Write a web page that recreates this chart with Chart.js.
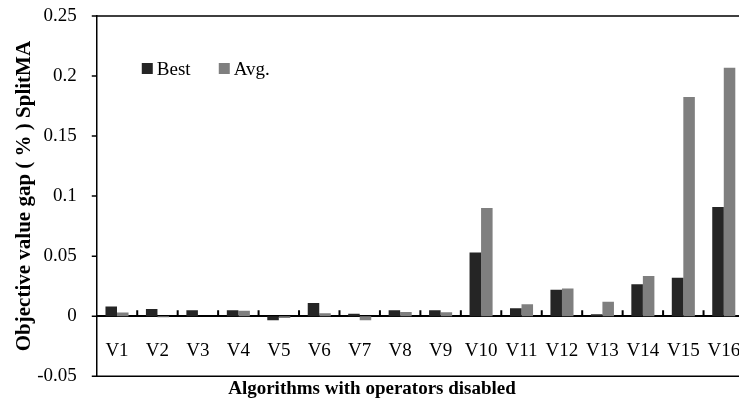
<!DOCTYPE html>
<html>
<head>
<meta charset="utf-8">
<script src="https://cdn.jsdelivr.net/npm/chart.js@4.4.0/dist/chart.umd.min.js"></script>
<style>
    html, body { margin: 0; padding: 0; background: #fff; overflow: hidden; width: 739px; height: 400px; }
    canvas { display: block; }
</style>
</head>
<body>
<canvas id="gapChart" width="744" height="400"></canvas>
<script>
// Chart data
const variants = ["V1", "V2", "V3", "V4", "V5", "V6", "V7", "V8", "V9", "V10", "V11", "V12", "V13", "V14", "V15", "V16"];
const bestGap = [0.008, 0.006, 0.005, 0.005, -0.0035, 0.011, 0.002, 0.005, 0.005, 0.053, 0.0065, 0.022, 0.0015, 0.0265, 0.032, 0.091];
const avgGap = [0.003, -0.001, 0, 0.0045, -0.0015, 0.0025, -0.0035, 0.0035, 0.0033, 0.09, 0.01, 0.023, 0.012, 0.0335, 0.1825, 0.207];
const yTickMin = -0.05;
const yTickMax = 0.25;
const yTickStep = 0.05;

const serif = "'Liberation Serif', 'Times New Roman', serif";

// Draws the box lines, the small axis ticks and the legend
const decorations = {
    id: "decorations",
    afterDraw(chart) {
        const ctx = chart.ctx;
        const area = chart.chartArea;
        const xScale = chart.scales.x;
        const yScale = chart.scales.y;
        const zeroY = yScale.getPixelForValue(0);
        const step = xScale.width / variants.length;

        ctx.save();
        ctx.strokeStyle = "#000";
        ctx.lineWidth = 1.5;
        ctx.beginPath();
        ctx.moveTo(area.left, area.top);
        ctx.lineTo(area.right, area.top);
        ctx.moveTo(area.left, area.bottom);
        ctx.lineTo(area.right, area.bottom);
        // y ticks pointing out of the plot
        yScale.ticks.forEach(t => {
            const y = yScale.getPixelForValue(t.value);
            ctx.moveTo(area.left - 5, y);
            ctx.lineTo(area.left, y);
        });
        ctx.stroke();

        // tick marks between categories, pointing up from the zero line
        ctx.lineWidth = 2;
        ctx.beginPath();
        for (let i = 0; i < variants.length; i++) {
            const x = xScale.getPixelForTick(i) + step / 2;
            ctx.moveTo(x, zeroY);
            ctx.lineTo(x, zeroY - 6);
        }
        ctx.stroke();

        // legend inside the plot
        ctx.font = "19px " + serif;
        ctx.textBaseline = "alphabetic";
        let lx = area.left + 45;
        chart.data.datasets.forEach(ds => {
            ctx.fillStyle = ds.backgroundColor;
            ctx.fillRect(lx, area.top + 47, 11, 11);
            ctx.fillStyle = "#000";
            ctx.fillText(ds.label, lx + 15, area.top + 59);
            lx += 77;
        });
        ctx.restore();
    }
};

const gapChart = new Chart(document.getElementById("gapChart").getContext("2d"), {
    type: "bar",
    data: {
        labels: variants,
        datasets: [
            { label: "Best", data: bestGap, backgroundColor: "#252525" },
            { label: "Avg.", data: avgGap, backgroundColor: "#7f7f7f" }
        ]
    },
    options: {
        responsive: false,
        animation: false,
        layout: { padding: { top: 16, right: 0, left: 0, bottom: 0 } },
        datasets: {
            bar: { categoryPercentage: 0.57, barPercentage: 1.0 }
        },
        plugins: {
            legend: { display: false },
            tooltip: { enabled: false },
            title: {
                display: true,
                position: "bottom",
                text: "Algorithms with operators disabled",
                color: "#000",
                font: { family: serif, size: 19, weight: "bold" },
                padding: { top: 1, bottom: 0 }
            }
        },
        scales: {
            x: {
                position: { y: 0 },
                grid: {
                    display: true,
                    drawOnChartArea: false,
                    drawTicks: true,
                    tickLength: 21,
                    color: "rgba(0,0,0,0)"
                },
                border: { display: true, color: "#000", width: 2 },
                ticks: {
                    color: "#000",
                    padding: 2,
                    maxRotation: 0,
                    autoSkip: false,
                    font: { family: serif, size: 19 }
                }
            },
            y: {
                min: yTickMin,
                max: yTickMax,
                grid: {
                    drawOnChartArea: false,
                    drawTicks: true,
                    tickLength: 20,
                    color: "rgba(0,0,0,0)"
                },
                border: { display: true, color: "#000", width: 1.5 },
                ticks: {
                    stepSize: yTickStep,
                    color: "#000",
                    padding: 0,
                    font: { family: serif, size: 19 },
                    callback: v => String(Number(v.toFixed(2)))
                },
                title: {
                    display: true,
                    text: "Objective value gap ( % ) SplitMA",
                    color: "#000",
                    font: { family: serif, size: 21, weight: "bold" },
                    padding: { top: 12, bottom: 0 }
                }
            }
        }
    },
    plugins: [decorations]
});
</script>
</body>
</html>
